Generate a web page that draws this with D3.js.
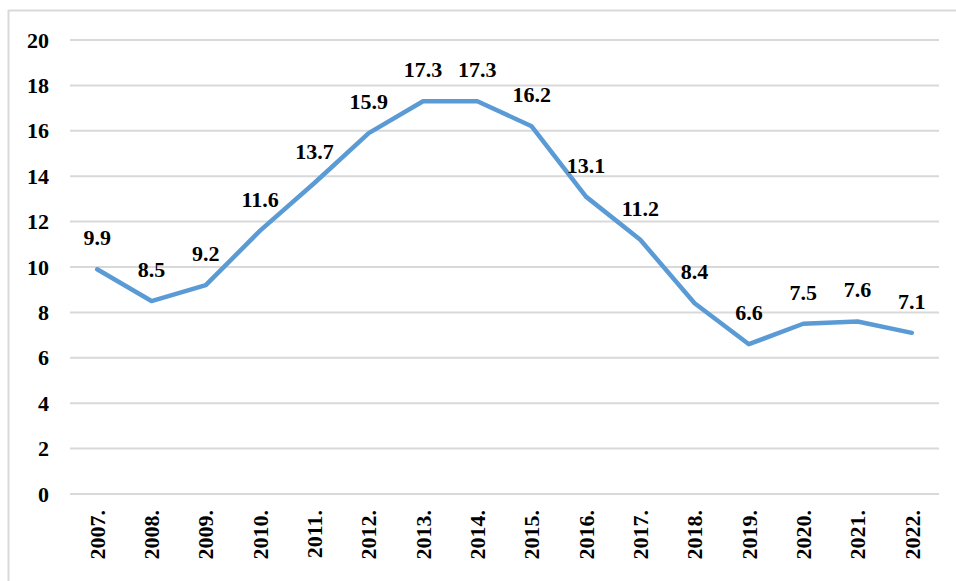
<!DOCTYPE html>
<html>
<head>
<meta charset="utf-8">
<script src="https://cdn.jsdelivr.net/npm/d3@7"></script>
<style>
  body { margin: 0; background: #fff; }
  svg { display: block; }
</style>
</head>
<body>
<svg id="chart"></svg>
<script>
// chart data
var years = ["2007.", "2008.", "2009.", "2010.", "2011.", "2012.", "2013.", "2014.",
             "2015.", "2016.", "2017.", "2018.", "2019.", "2020.", "2021.", "2022."];
var values = [9.9, 8.5, 9.2, 11.6, 13.7, 15.9, 17.3, 17.3, 16.2, 13.1, 11.2, 8.4, 6.6, 7.5, 7.6, 7.1];
var yTicks = [0, 2, 4, 6, 8, 10, 12, 14, 16, 18, 20];

var w = 956, h = 581;
var plotLeft = 70, plotRight = 939, plotTop = 40, plotBottom = 494;
var fontFam = "'Liberation Serif', 'Times New Roman', Times, serif";

var svg = d3.select("#chart").attr("width", w).attr("height", h);

// outer frame (top + left only visible)
svg.append("line").attr("x1", 8).attr("x2", w).attr("y1", 10.5).attr("y2", 10.5)
  .attr("stroke", "#d9d9d9").attr("stroke-width", 2);
svg.append("line").attr("x1", 8.5).attr("x2", 8.5).attr("y1", 10).attr("y2", h)
  .attr("stroke", "#d9d9d9").attr("stroke-width", 2);

var x = d3.scaleBand().domain(years).range([plotLeft, plotRight]);
var y = d3.scaleLinear().domain([0, 20]).range([plotBottom, plotTop]);

// gridlines
svg.append("g").selectAll("line")
  .data(yTicks)
  .enter().append("line")
  .attr("x1", plotLeft).attr("x2", plotRight)
  .attr("y1", function(d) { return y(d); })
  .attr("y2", function(d) { return y(d); })
  .attr("stroke", "#d9d9d9").attr("stroke-width", 2);

// y axis labels
var yAxis = d3.axisLeft(y).tickValues(yTicks).tickSize(0).tickPadding(21);
var yg = svg.append("g").attr("transform", "translate(" + plotLeft + ",0)").call(yAxis);
yg.select(".domain").remove();

// x axis labels, rotated
var xAxis = d3.axisBottom(x).tickSize(0).tickPadding(0);
var xg = svg.append("g").attr("transform", "translate(0," + plotBottom + ")").call(xAxis);
xg.select(".domain").remove();
xg.selectAll("text")
  .attr("text-anchor", "end")
  .attr("dy", "0.35em")
  .attr("transform", "translate(0,16) rotate(-90)")
  .attr("x", 0).attr("y", 0);

[xg, yg].forEach(function(g) {
  g.attr("font-family", null).attr("font-size", null);
  g.selectAll("text")
    .style("font-family", fontFam)
    .style("font-weight", "bold")
    .style("font-size", "22px")
    .attr("fill", "#000");
});

// line
var line = d3.line()
  .x(function(d, i) { return x(years[i]) + x.bandwidth() / 2; })
  .y(function(d) { return y(d); });

svg.append("path")
  .datum(values)
  .attr("d", line)
  .attr("fill", "none")
  .attr("stroke", "#5b9bd5")
  .attr("stroke-width", 4.5)
  .attr("stroke-linejoin", "round")
  .attr("stroke-linecap", "round");

// data labels
svg.append("g").selectAll("text")
  .data(values)
  .enter().append("text")
  .attr("x", function(d, i) { return x(years[i]) + x.bandwidth() / 2; })
  .attr("y", function(d) { return y(d) - 24; })
  .attr("text-anchor", "middle")
  .style("font-family", fontFam)
  .style("font-weight", "bold")
  .style("font-size", "22px")
  .attr("fill", "#000")
  .text(function(d) { return d.toFixed(1); });
</script>
</body>
</html>
